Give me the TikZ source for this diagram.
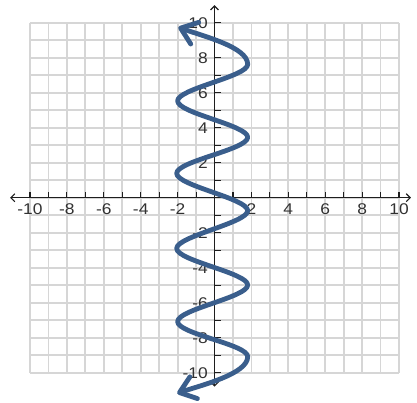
\documentclass[tikz,border=0pt]{standalone}
\usepackage{fontspec}
\newfontfamily\labfont[FakeStretch=1.12]{Liberation Sans}
\usetikzlibrary{arrows.meta}
\definecolor{gridc}{RGB}{214,214,214}
\definecolor{curvec}{RGB}{58,94,140}
\definecolor{axisc}{RGB}{30,30,30}
\definecolor{labc}{RGB}{50,50,50}
\begin{document}
\begin{tikzpicture}[x=18.45pt,y=17.5pt,
  gridline/.style={draw=gridc,line width=1.8pt},
  axisline/.style={draw=axisc,line width=1.1pt},
  axisarrow/.style={axisline,{Straight Barb[length=4pt,width=8pt]}-{Straight Barb[length=4pt,width=8pt]}},
  tickmark/.style={axisline},
  xlab/.style={font=\labfont\fontsize{15.5}{18}\selectfont,text=labc,inner sep=0pt},
  ylab/.style={xlab,anchor=east},
  wave/.style={draw=curvec,line width=4.8pt,line cap=round,line join=round,
    {Straight Barb[length=15pt,width=23pt,round]}-{Straight Barb[length=15pt,width=23pt,round]}}
]
\useasboundingbox (-214.5pt,-204.3pt) rectangle (202.5pt,197.7pt);
\fill[white] (-214.5pt,-204.3pt) rectangle (202.5pt,197.7pt);
% grid
\foreach \i in {-10,...,10} {
  \draw[gridline] (\i,-10) -- (\i,10);
  \draw[gridline] (-10,\i) -- (10,\i);
}
% axes
\coordinate (xl) at (-11.08,0);
\coordinate (xr) at (10.65,0);
\coordinate (yt) at (0,11.0);
\coordinate (yb) at (0,-10.8);
\draw[axisarrow] (xl) -- (xr);
\draw[axisarrow] (yb) -- (yt);
\foreach \i in {-10,...,10} {
  \draw[tickmark] (\i,0) -- ++(0pt,6pt);
  \draw[tickmark] (0,\i) -- ++(6pt,0pt);
}
% labels
\foreach \i in {-10,-8,-6,-4,-2,2,4,6,8,10} {
  \node[xlab] (xlab\i) at ([yshift=-11pt]\i,0) {\i};
  \node[ylab] (ylab\i) at ([xshift=-6.5pt]0,\i) {\i};
}
% curve
\coordinate (t1) at (-1.96,9.74);
\coordinate (r1) at (1.8,7.62);
\coordinate (l1) at (-2.0,5.53);
\coordinate (r2) at (1.8,3.45);
\coordinate (l2) at (-2.05,1.39);
\coordinate (r3) at (1.8,-0.74);
\coordinate (l3) at (-2.05,-2.9);
\coordinate (r4) at (1.8,-4.99);
\coordinate (l4) at (-2.0,-7.08);
\coordinate (r5) at (1.8,-9.08);
\coordinate (t2) at (-2.02,-11.18);
\draw[wave] (t1) .. controls (-0.66,9.24) and (1.8,8.62) .. (r1)
  .. controls (1.8,6.92) and (-2.0,6.23) .. (l1)
  .. controls (-2.0,4.83) and (1.8,4.15) .. (r2)
  .. controls (1.8,2.75) and (-2.05,2.09) .. (l2)
  .. controls (-2.05,0.69) and (1.8,-0.04) .. (r3)
  .. controls (1.8,-1.44) and (-2.05,-2.2) .. (l3)
  .. controls (-2.05,-3.6) and (1.8,-4.29) .. (r4)
  .. controls (1.8,-5.69) and (-2.0,-6.38) .. (l4)
  .. controls (-2.0,-7.78) and (1.8,-8.38) .. (r5)
  .. controls (1.8,-10.08) and (-0.72,-10.71) .. (t2);
\end{tikzpicture}
\end{document}
